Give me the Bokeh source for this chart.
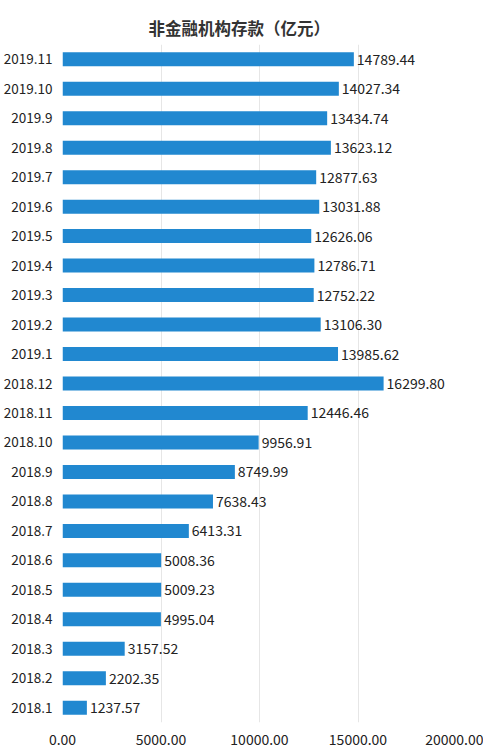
from bokeh.plotting import figure
from bokeh.models import (ColumnDataSource, Range1d, FactorRange, LabelSet,
                          NumeralTickFormatter, FixedTicker, Title)
from bokeh.core.properties import value
from bokeh.embed import file_html
from bokeh.resources import INLINE

months = ["2018.1", "2018.2", "2018.3", "2018.4", "2018.5", "2018.6", "2018.7",
          "2018.8", "2018.9", "2018.10", "2018.11", "2018.12", "2019.1", "2019.2",
          "2019.3", "2019.4", "2019.5", "2019.6", "2019.7", "2019.8", "2019.9",
          "2019.10", "2019.11"]
deposits = [1237.57, 2202.35, 3157.52, 4995.04, 5009.23, 5008.36, 6413.31,
            7638.43, 8749.99, 9956.91, 12446.46, 16299.80, 13985.62, 13106.30,
            12752.22, 12786.71, 12626.06, 13031.88, 12877.63, 13623.12, 13434.74,
            14027.34, 14789.44]
x_ticks = [0, 5000, 10000, 15000, 20000]
title_text = "非金融机构存款（亿元）"

FONT = "Noto Sans CJK SC"

src = ColumnDataSource(dict(
    month=months,
    value=deposits,
    label=[f"{v:.2f}" for v in deposits],
))

p = figure(width=483, height=752, output_backend="svg", toolbar_location=None,
           y_range=FactorRange(factors=months), x_range=Range1d(0, 20000),
           min_border_left=60, min_border_right=27, min_border_top=44,
           min_border_bottom=30)
p.outline_line_color = None

t = Title(text=title_text, align="left", offset=86, text_font=FONT,
          text_font_size="16.5px", text_font_style="bold", text_color="#333333")
p.add_layout(t, "above")

p.hbar(y="month", right="value", left=0, height=0.475, source=src,
       fill_color="#2188d0", line_color=None)

vals = LabelSet(x="value", y="month", text="label", source=src, x_offset=3,
                text_font=value(FONT), text_font_size="14px", text_color="#222222",
                text_baseline="middle", text_align="left")
p.add_layout(vals)

p.yaxis.axis_line_color = None
p.yaxis.major_tick_line_color = None
p.yaxis.major_tick_out = 0
p.yaxis.major_tick_in = 0
p.yaxis.major_label_standoff = 10
p.yaxis.major_label_text_font = FONT
p.yaxis.major_label_text_font_size = "13.5px"
p.yaxis.major_label_text_color = "#222222"
p.ygrid.grid_line_color = None

p.xaxis.ticker = FixedTicker(ticks=x_ticks)
p.xaxis.formatter = NumeralTickFormatter(format="0.00")
p.xaxis.axis_line_color = None
p.xaxis.major_tick_line_color = None
p.xaxis.major_tick_out = 0
p.xaxis.major_tick_in = 0
p.xaxis.minor_tick_line_color = None
p.xaxis.major_label_standoff = 11
p.xaxis.major_label_text_font = FONT
p.xaxis.major_label_text_font_size = "14px"
p.xaxis.major_label_text_color = "#222222"

p.xgrid.ticker = FixedTicker(ticks=x_ticks)
p.xgrid.grid_line_color = "#e6e6e6"
p.xgrid.grid_line_width = 1

open("out.html", "w").write(file_html(p, INLINE))
